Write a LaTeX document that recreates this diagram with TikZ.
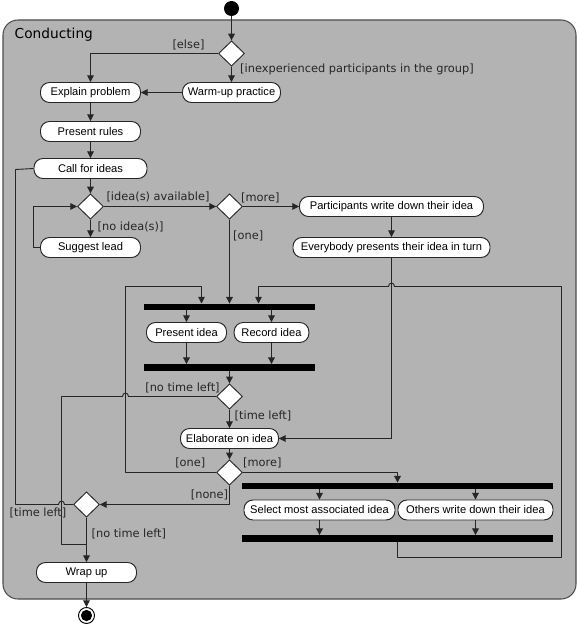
\documentclass[tikz,border=0pt]{standalone}
\usepackage{fontspec}
\usepackage{xcolor}
\usepackage{tikz}
\usetikzlibrary{arrows.meta,calc,shapes.geometric}
\newfontfamily\actfont{Liberation Sans}
\newfontfamily\guardfont{DejaVu Sans}
\definecolor{regionfill}{HTML}{B3B3B3}
\definecolor{regionedge}{HTML}{4D4D4D}
\definecolor{flowline}{HTML}{262626}
\tikzset{
  flow/.style={line width=0.8pt, draw=flowline, line join=round},
  arrowflow/.style={flow, -{Triangle[length=2mm, width=2mm]}},
  action/.style={
    rectangle,
    rounded corners=0.27cm,
    draw=flowline,
    line width=0.8pt,
    fill=white,
    font=\actfont\fontsize{9.5}{11}\selectfont,
    minimum height=0.6cm,
    inner sep=0pt
  },
  choice/.style={diamond, draw=flowline, line width=0.8pt, fill=white, minimum width=0.78cm, minimum height=0.76cm, inner sep=0pt},
  bar/.style={rectangle, fill=black, draw=none, minimum height=0.19cm, inner sep=0pt},
  guard/.style={font=\guardfont\fontsize{9.7}{11}\selectfont, text=black!85, inner sep=0pt},
  initial/.style={circle, fill=black, minimum size=0.45cm, inner sep=0pt},
  final/.style={circle, draw=black, line width=0.8pt, fill=white, minimum size=0.48cm, inner sep=0pt}
}

\begin{document}
\begin{tikzpicture}[x=0.03cm,y=-0.03cm]
\path[use as bounding box] (0,0) rectangle (578,626);
\fill[white] (0,0) rectangle (578,626);

% region
\draw[fill=regionfill, draw=regionedge, line width=0.9pt, rounded corners=0.45cm] (3,20) rectangle (576,599);
\node[font=\guardfont\fontsize{11.7}{13}\selectfont, anchor=west, inner sep=0pt] (title) at (14.5,35) {Conducting};

% nodes
\node[initial] (start) at (231.5,8.5) {};
\node[choice] (dgroup) at (231.5,53.5) {};
\node[action, minimum width=2.94cm] (warm) at (231.5,92.5) {Warm-up practice};
\node[action, minimum width=3cm] (explain) at (90.5,92.5) {Explain problem};
\node[action, minimum width=3cm] (rules) at (90.5,131.5) {Present rules};
\node[action, minimum width=3.39cm] (call) at (90.5,168.5) {Call for ideas};
\node[choice] (dideas) at (90.5,206.5) {};
\node[action, minimum width=3cm] (lead) at (90.5,247.5) {Suggest lead};
\node[choice] (dmore) at (229.5,206.5) {};
\node[action, minimum width=5.52cm] (write) at (391.5,206.5) {Participants write down their idea};
\node[action, minimum width=5.91cm] (turn) at (391.5,247.5) {Everybody presents their idea in turn};

\node[bar, minimum width=5.13cm] (forkA) at (229.5,307) {};
\node[action, minimum width=2.4cm] (present) at (186.5,332.5) {Present idea};
\node[action, minimum width=2.24cm] (record) at (271.5,332.5) {Record idea};
\node[bar, minimum width=5.13cm] (joinA) at (229.5,367.5) {};
\node[choice] (dtimeA) at (229.5,396.5) {};
\node[action, minimum width=2.94cm] (elab) at (229.5,438.5) {Elaborate on idea};
\node[choice] (dcount) at (229.5,472.5) {};

\node[bar, minimum width=9.33cm] (forkB) at (397.5,486) {};
\node[action, minimum width=4.53cm] (select) at (319.5,510) {Select most associated idea};
\node[action, minimum width=4.65cm] (others) at (475.5,510) {Others write down their idea};
\node[bar, minimum width=9.33cm] (joinB) at (397.5,538.5) {};

\node[choice] (dtimeB) at (86.5,504.5) {};
\node[action, minimum width=3cm] (wrap) at (86.5,572.5) {Wrap up};
\node[final] (stop) at (86.5,615.5) {};
\fill[black] (stop) circle[radius=5.6];

% connectors
\draw[arrowflow] (start) -- (dgroup);
\draw[arrowflow] (dgroup.west) -| (explain.north);
\draw[arrowflow] (dgroup) -- (warm);
\draw[arrowflow] (warm) -- (explain);
\draw[arrowflow] (explain) -- (rules);
\draw[arrowflow] (rules) -- (call);
\draw[arrowflow] (call) -- (dideas);
\draw[arrowflow] (dideas) -- (lead);
\draw[arrowflow] (lead.west) -- ++(-7,0) |- (dideas.west);
\draw[arrowflow] (dideas) -- (dmore);
\draw[arrowflow] (dmore) -- (write);
\draw[arrowflow] (write) -- (turn);
\draw[arrowflow] (dmore) -- (dmore |- forkA.north);
\draw[flow] (turn.south) |- (elab.east);
\draw[arrowflow] (turn.south |- elab.east) -- (elab.east);

\draw[arrowflow] (present |- forkA.south) -- (present);
\draw[arrowflow] (record |- forkA.south) -- (record);
\draw[arrowflow] (present) -- (present |- joinA.north);
\draw[arrowflow] (record) -- (record |- joinA.north);
\draw[arrowflow] (joinA) -- (dtimeA);
\draw[arrowflow] (dtimeA) -- (elab);
\draw[arrowflow] (elab) -- (dcount);

\draw[arrowflow] (dcount.west) -- (125.5,472.5) -- (125.5,286.5) -| (201.5,303.5);
\draw[arrowflow] (joinB.south) -- (397.5,557.5) -- (561.5,557.5) -- (561.5,286.5) -- (394.5,286.5)
  .. controls +(0,-4.5) and +(0,-4.5) .. (388.5,286.5) -- (258.5,286.5) -- (258.5,303.5);
\draw[arrowflow] (dcount.east) -| (forkB.north);
\draw[arrowflow] (select |- forkB.south) -- (select);
\draw[arrowflow] (others |- forkB.south) -- (others);
\draw[arrowflow] (select) -- (select |- joinB.north);
\draw[arrowflow] (others) -- (others |- joinB.north);
\draw[arrowflow] (dcount.south) |- (dtimeB.east);

\coordinate (merge) at (86.5,544.5);
\draw[flow] (dtimeA.west) -- (128.5,396.5) .. controls +(0,-4.5) and +(0,-4.5) .. (122.5,396.5)
  -- (61.5,396.5) -- (61.5,544.5) -- (merge);
\draw[flow] (dtimeB.west) -- (64.5,504.5) .. controls +(0,-4.5) and +(0,-4.5) .. (58.5,504.5)
  -- (15.5,504.5) -- (15.5,169.5) -- (call.west);
\draw[arrowflow] (dtimeB) -- (wrap);
\draw[arrowflow] (wrap) -- (stop);

% guards
\node[guard] (gelse) at (188.5,45) {[else]};
\node[guard, anchor=west] (gwarm) at (240,69) {[inexperienced participants in the group]};
\node[guard] (gavail) at (158,196.7) {[idea(s) available]};
\node[guard, anchor=west] (gnone) at (97.5,227.3) {[no idea(s)]};
\node[guard, anchor=west] (gmoreA) at (241,198) {[more]};
\node[guard, anchor=west] (goneA) at (233,236) {[one]};
\node[guard] (gnotimeA) at (182.5,387.7) {[no time left]};
\node[guard, anchor=west] (gtimeA) at (234.5,415.7) {[time left]};
\node[guard] (goneB) at (190.3,463.3) {[one]};
\node[guard, anchor=west] (gmoreB) at (243,462.7) {[more]};
\node[guard] (gnoneB) at (209.5,495.3) {[none]};
\node[guard] (gtimeB) at (38,512.7) {[time left]};
\node[guard, anchor=west] (gnotimeB) at (91.5,534) {[no time left]};
\end{tikzpicture}
\end{document}
